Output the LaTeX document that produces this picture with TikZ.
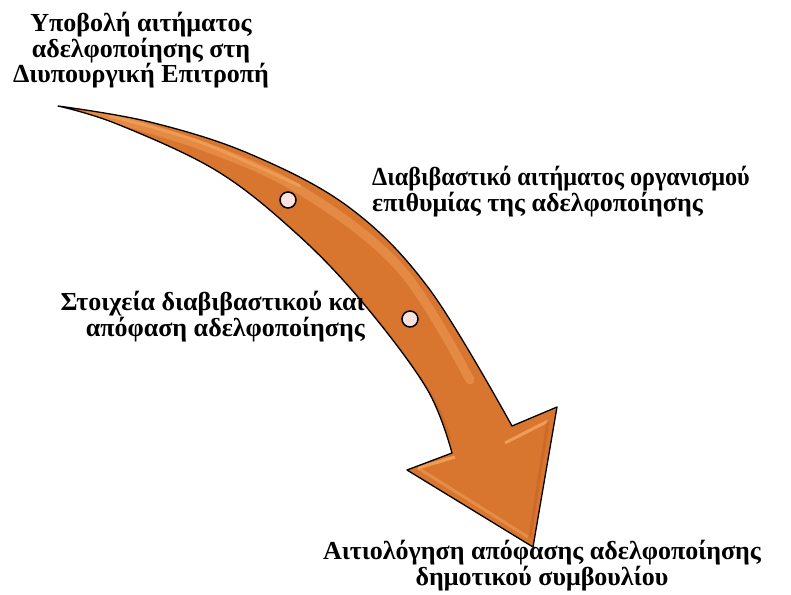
\documentclass[tikz,border=0pt]{standalone}
\usepackage{fontspec}
\setmainfont{Liberation Serif}
\begin{document}
\begin{tikzpicture}[x=1pt,y=-1pt,
  lbl/.style={font=\bfseries\fontsize{26}{25.5}\selectfont,inner sep=0pt,text=black},
  dot/.style={circle,draw=black,line width=1.5pt,fill=dotpink,minimum size=16pt,inner sep=0pt}]
\definecolor{arrorange}{RGB}{216,118,48}
\definecolor{arrlight}{RGB}{246,170,100}
\definecolor{arrdark}{RGB}{192,92,30}
\definecolor{dotpink}{RGB}{250,226,222}
\useasboundingbox (0,0) rectangle (791,594);
% arrow body
\def\arrowpath{plot[smooth,tension=0.6] coordinates {(58,106) (150,122) (250,154) (350,208) (430,290) (512,426)}
  -- (557,407) -- (533,547) -- (407,470) --
  plot[smooth,tension=0.6] coordinates {(452,453) (427,389) (363,303) (297,234) (217,171) (117,124) (58,106)} -- cycle}
\fill[arrorange] \arrowpath;
\begin{scope}
\clip \arrowpath;
\draw[arrdark,line width=8pt,opacity=0.45] plot[smooth,tension=0.6] coordinates {(120,128) (217,175) (297,238) (363,307) (427,393) (447,440)};
\draw[arrlight,line width=9pt,opacity=0.4,line cap=round] plot[smooth,tension=0.6] coordinates {(90,112) (200,145) (300,190) (400,268) (470,380)};
\draw[arrlight,line width=3pt,opacity=0.55,line cap=round] plot[smooth,tension=0.6] coordinates {(110,116) (200,142) (300,186)};
\draw[arrlight,line width=3pt,opacity=0.75] (418,468) -- (455,457);
\draw[arrlight,line width=3pt,opacity=0.75] (505,443) -- (548,421);
\draw[arrlight,line width=3pt,opacity=0.45] (418,468) -- (528,537);
\draw[arrdark,line width=3pt,opacity=0.45] (548,421) -- (530,537);
\end{scope}
\draw[black,line width=1.3pt,line join=round] \arrowpath;
% dots
\node[dot] (d1) at (288,200) {};
\node[dot] (d2) at (410,319) {};
% labels
\node[lbl,align=center,anchor=north] (t1) at (141,12) {Υποβολή αιτήματος\\αδελφοποίησης στη\\Διυπουργική Επιτροπή};
\node[lbl,align=left,anchor=north west] (t2) at (372,166) {\scalebox{0.93}[1]{Διαβιβαστικό αιτήματος οργανισμού}\\επιθυμίας της αδελφοποίησης};
\node[lbl,align=right,anchor=north east] (t3) at (365,291) {Στοιχεία διαβιβαστικού και\\απόφαση αδελφοποίησης};
\node[lbl,align=center,anchor=north] (t4) at (542,540) {Αιτιολόγηση απόφασης αδελφοποίησης\\δημοτικού συμβουλίου};
\end{tikzpicture}
\end{document}
